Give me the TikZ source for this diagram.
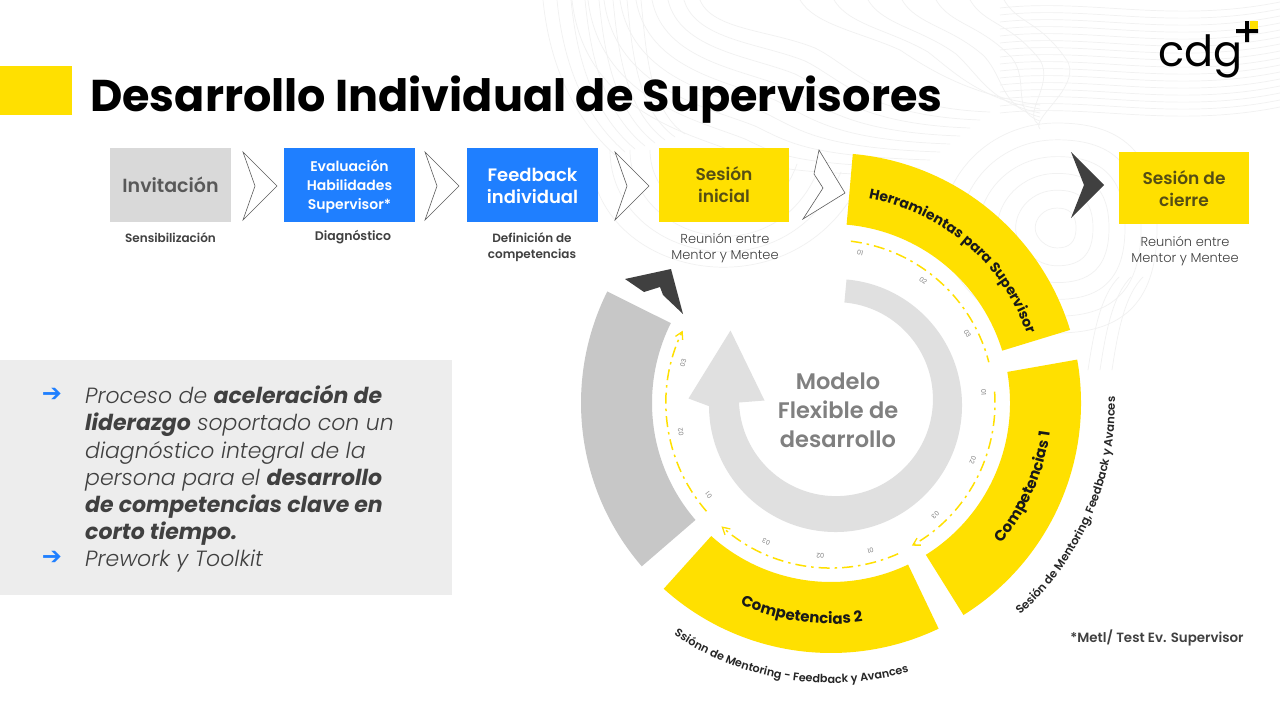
\documentclass[tikz,border=0pt]{standalone}
\usepackage{fontspec}
\usetikzlibrary{decorations.text,arrows.meta}
\setmainfont{Poppins}
\newfontfamily\lightf{Poppins Light}
\newfontfamily\medf{Poppins SemiBold}
\definecolor{ylw}{HTML}{FFE000}
\definecolor{blu}{HTML}{1F7FFF}
\definecolor{dk}{HTML}{404040}
\definecolor{olv}{HTML}{554E14}
\definecolor{ctr}{HTML}{F1F1F1}
\newcommand{\fs}[2]{\fontsize{#1}{#2}\selectfont}
\newcommand{\sector}[3]{\fill[#1] (#2:250) arc[start angle=#2,end angle=#3,radius=250] -- (#3:179) arc[start angle=#3,end angle=#2,radius=179] -- cycle;}
\newcommand{\tick}[3]{\node[ticklabel,rotate=#3] (t#1#2) at (#1:153) {#2};}
\tikzset{
 stepbox/.style={minimum width=130pt,minimum height=74pt,inner sep=0pt,align=center},
 subcap/.style={align=center,inner sep=0pt,text=dk},
 ticklabel/.style={inner sep=0pt,font=\fs{6.5}{7},text=gray},
 dashline/.style={draw=ylw,line width=1.5pt,dash pattern=on 11pt off 5pt on 2.5pt off 5pt},
 chev/.style={draw=dk!85,line width=.6pt,fill=white},
 topo/.style={draw=ctr,line width=.7pt},
 barb/.style={-{Straight Barb[length=7pt,width=8pt,line width=1.3pt]}},
}
\begin{document}
\begin{tikzpicture}[x=1pt,y=-1pt]
\useasboundingbox (0,0) rectangle (1280,720);
\fill[white] (0,0) rectangle (1280,720);
% contours
\foreach \k in {0,...,15}{
 \draw[topo] (1000,{8+7*\k}) .. controls (1090,{-2+7*\k}) and (1170,{24+7*\k}) .. (1280,{2+7*\k});
}
\foreach \k in {0,...,7}{
 \draw[topo] ({543+\k*14},0) .. controls ({548+\k*14},50) and ({565+\k*12},110) .. ({615+\k*10},{155-\k*3});
}
\foreach \k in {0,...,8}{
 \draw[topo] ({700-\k*16},0) .. controls ({712-\k*16},{30+\k*10}) and ({770-\k*10},{30+\k*13}) .. ({815-\k*10},{48+\k*13}) .. controls ({850-\k*10},{65+\k*13}) and ({880-\k*12},{108+\k*8}) .. ({990-\k*10},{112+\k*8});
}
\foreach \k in {0,...,6}{
 \draw[topo] ({800+\k*34},0) .. controls ({815+\k*34},25) and ({860+\k*30},{32-\k*2}) .. ({900+\k*28},{50+\k*2}) .. controls ({930+\k*25},{70+\k*3}) and ({970+\k*10},{95+\k*4}) .. (1040,{105+\k*4});
}
\foreach \r in {19,36,52,68,84,100}{
 \draw[topo] ({1057+\r},228) .. controls ({1057+\r},{228-\r*.8}) and ({1057+.6*\r},{228-\r*1.05}) .. (1057,{228-\r*1.05}) .. controls ({1057-.7*\r},{228-\r*1.05}) and ({1057-1.15*\r},{228-.5*\r}) .. ({1057-1.15*\r},228) .. controls ({1057-1.15*\r},{228+.5*\r}) and ({1057-.6*\r},{228+1.05*\r}) .. (1057,{228+1.05*\r}) .. controls ({1057+.6*\r},{228+1.05*\r}) and ({1057+\r},{228+.8*\r}) .. ({1057+\r},228);
}
\foreach \r in {0,12,24}{
 \draw[topo] ({1143-\r},277) .. controls ({1125-\r},295) and ({1118-\r},330) .. ({1112-\r},370);
}
\foreach \r in {30,50,70,90,110,130}{
 \draw[topo] ({720-\r},150) .. controls ({720-\r},{150+\r*1.0}) and ({720+\r*.6},{190+\r}) .. ({720+\r*1.1},{150+\r*.2});
}
% title
\fill[ylw] (0,66) rectangle (72,115);
\node[anchor=west,inner sep=0pt,font=\bfseries\fs{44.5}{50},text=black] (title) at (90,100) {Desarrollo Individual de Supervisores};
% logo
\node[anchor=base west,inner sep=0pt,font=\fs{43}{43},text=black] (logo) at (1158,66) {cdg};
\fill[ylw] (1250,21) rectangle (1258,29);
\fill[black] (1236,29) rectangle (1258,33) (1245,21) rectangle (1249,42);
% boxes
\fill[black!15] (110,148) rectangle (231,222);
\node[stepbox,minimum width=121pt,text=black!65,font=\medf\fs{19}{22}] (inv) at (170.5,185) {Invitación};
\fill[blu] (284,148) rectangle (415,222);
\node[stepbox,minimum width=131pt,text=white,font=\medf\fs{14}{19}] (eva) at (349.5,187) {Evaluación\\Habilidades\\Supervisor*};
\fill[blu] (467,148) rectangle (598,222);
\node[stepbox,minimum width=131pt,text=white,font=\medf\fs{18}{22}] (fee) at (532.5,186) {Feedback\\individual};
\fill[ylw] (659,148) rectangle (789,222);
\node[stepbox,text=olv,font=\medf\fs{17}{22}] (ini) at (724,185) {Sesión\\inicial};
\fill[ylw] (1119,152) rectangle (1249,224);
\node[stepbox,minimum height=72pt,text=olv,font=\medf\fs{17}{22}] (cie) at (1184,189) {Sesión de\\cierre};
% captions
\node[subcap,font=\medf\fs{12}{16}] (c1) at (170.5,238) {Sensibilización};
\node[subcap,font=\medf\fs{12.5}{16}] (c2) at (353,237) {Diagnóstico};
\node[subcap,font=\medf\fs{12}{16}] (c3) at (532,247) {Definición de\\competencias};
\node[subcap,font=\lightf\fs{13}{16}] (c4) at (725,248) {Reunión entre\\Mentor y Mentee};
\node[subcap,font=\lightf\fs{13}{16}] (c5) at (1185,251) {Reunión entre\\Mentor y Mentee};
% chevrons
\foreach \x in {243,425,615}{
 \draw[chev] (\x,152) -- ++(34,34) -- ++(-34,34) -- ++(12,-34) -- cycle;
}
\draw[chev] (819,150) -- (845,193) -- (803,219) -- (823,188) -- (814,174) -- cycle;
\fill[dk] (1071,152) -- (1104,185) -- (1071,218) -- (1084,185) -- cycle;
\fill[dk] (625,279) -- (671,269) -- (683,314) -- (663,295) -- (660,287) -- (644,292) -- cycle;
% left panel
\fill[black!7] (0,360) rectangle (452,595);
\node[inner sep=0pt,font=\fs{24}{24},text=blu] (b1) at (52,395) {\fontspec{DejaVu Sans}\bfseries ➔};
\node[inner sep=0pt,font=\fs{24}{24},text=blu] (b2) at (52,558) {\fontspec{DejaVu Sans}\bfseries ➔};
\node[anchor=north west,inner sep=0pt,text=dk,align=left,font=\fs{22}{27.2}] (para) at (85,385) {{\lightf\itshape Proceso de }\textbf{\textit{aceleración de}}\\\textbf{\textit{liderazgo}}{\lightf\itshape\ soportado con un}\\{\lightf\itshape diagnóstico integral de la}\\{\lightf\itshape persona para el }\textbf{\textit{desarrollo}}\\\textbf{\textit{de competencias clave en}}\\\textbf{\textit{corto tiempo.}}\\{\lightf\itshape Prework y Toolkit}};
% wheel
\begin{scope}[shift={(831,403)},y=1pt]
 \sector{ylw}{85}{17}
 \sector{ylw}{10}{-58}
 \sector{ylw}{-64.5}{-132}
 \sector{black!22}{-139.2}{-206.5}
 % inner ring
 \begin{scope}[shift={(4.5,-2.5)}]
  \fill[black!12] (85:126.5) arc[start angle=85,end angle=-184,radius=126.5] -- (-125.5,-1) -- (-147,7) -- (-105,75) -- (-71,5) -- (-96.5,3) arc[start angle=-178,end angle=85,radius=97] -- cycle;
 \end{scope}
 % dash-dot
 \draw[dashline] (83:163) arc[start angle=83,end angle=14.5,radius=163];
 \draw[dashline,barb] (4:164) arc[start angle=4,end angle=-60.5,radius=164];
 \draw[dashline,barb] (-66:165) arc[start angle=-66,end angle=-131.6,radius=165];
 \draw[dashline,barb] (-139:165) arc[start angle=-139,end angle=-206,radius=165];
 % ticks
 \tick{79}{01}{-11}\tick{53}{02}{-37}\tick{27}{03}{-63}
 \tick{4}{01}{-86}\tick{-22}{02}{-112}\tick{-47}{03}{-137}
 \tick{-75}{01}{-165}\tick{-94}{02}{-184}\tick{-115}{03}{-205}
 \tick{-143}{01}{-233}\tick{-169}{02}{-259}\tick{-195}{03}{-285}
 % curved labels
 \path[decorate,decoration={text along path,text align=center,text={|\bfseries\fs{14}{14}\color{black!90}|Herramientas para Supervisor}}] (94:208) arc[start angle=94,end angle=5,radius=208];
 \path[decorate,decoration={text along path,text align=center,text={|\bfseries\fs{15}{15}\color{black!90}|Competencias 1}}] (-55:221) arc[start angle=-55,end angle=8,radius=221];
 \path[decorate,decoration={text along path,text align=center,text={|\bfseries\fs{15}{15}\color{black!90}|Competencias 2}}] (-125:221) arc[start angle=-125,end angle=-71,radius=221];
 \path[decorate,decoration={text along path,text align=center,text={|\medf\fs{11.2}{11}\color{black!85}|Ssiónn de Mentoring - Feedback y Avances}}] (-135:280) arc[start angle=-135,end angle=-63,radius=280];
 \path[decorate,decoration={text along path,text align=center,text={|\medf\fs{11.5}{11}\color{black!85}|Sesión de Mentoring, Feedback y Avances}}] (-60:284) arc[start angle=-60,end angle=13,radius=284];
\end{scope}
\node[align=center,inner sep=0pt,font=\medf\fs{22.5}{29},text=black!50] (mod) at (838,410) {Modelo\\Flexible de\\desarrollo};
\node[inner sep=0pt,font=\medf\fs{13.4}{14},text=dk] (met) at (1157,638) {*Metl/ Test Ev. Supervisor};
\end{tikzpicture}
\end{document}
